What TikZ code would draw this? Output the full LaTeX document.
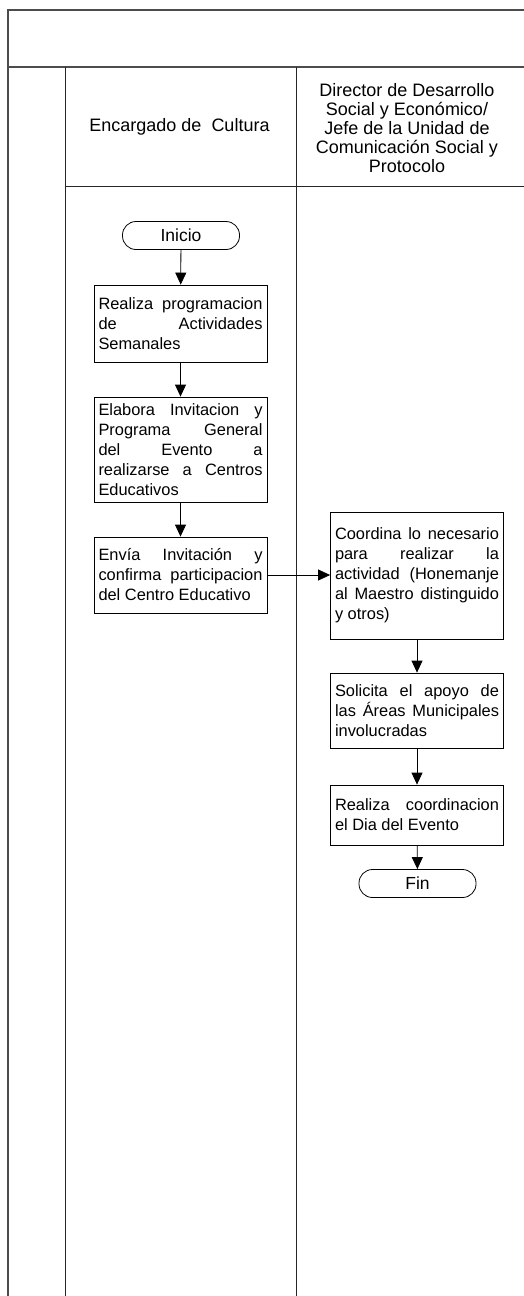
\documentclass[tikz,border=0pt]{standalone}
\usepackage{fontspec}
\setmainfont{Liberation Sans}
\usetikzlibrary{arrows.meta}
\newcommand{\jl}[1]{\makebox[164pt][s]{#1}}
\begin{document}
\begin{tikzpicture}[x=1pt,y=-1pt,
  frame/.style={line width=1pt, draw=black!85},
  thickframe/.style={line width=1.6pt, draw=black!70},
  procbox/.style={draw, line width=0.8pt, text width=164pt, inner xsep=4.5pt, inner ysep=0pt, align=justify, font=\fontsize{16.4}{20}\selectfont},
  term/.style={draw, line width=0.8pt, rounded corners=13.5pt, minimum width=117pt, minimum height=28pt, inner sep=0pt, font=\fontsize{17.5}{20}\selectfont},
  head/.style={align=center, font=\fontsize{18}{19}\selectfont, inner sep=0pt},
  flow/.style={line width=0.8pt, -{Triangle[length=12pt,width=11pt]}}]
\useasboundingbox (0,0) rectangle (524,1296);
% frame
\draw[thickframe] (530,10) -- (8,10) -- (8,1300);
\draw[thickframe] (8,67) -- (530,67);
\draw[frame] (65,186.5) -- (530,186.5);
\draw[frame] (65,67) -- (65,1300);
\draw[frame,line width=1.3pt] (296.5,67) -- (296.5,1300);
% headers
\node[head] (h1) at (179.5,127) {Encargado de\ \ Cultura};
\node[head] (h2) at (407,128) {Director de Desarrollo\\Social y Económico/\\Jefe de la Unidad de\\Comunicación Social y\\Protocolo};
% flow
\node[term] (ini) at (181,235.5) {Inicio};
\node[procbox, minimum height=77pt] (b1) at (180.5,323.5) {\jl{Realiza programacion}\\\jl{de Actividades}\\Semanales};
\node[procbox, minimum height=105pt] (b2) at (180.5,449.5) {\jl{Elabora Invitacion y}\\\jl{Programa General}\\\jl{del Evento a}\\\jl{realizarse a Centros}\\Educativos};
\node[procbox, minimum height=76pt] (b3) at (180.5,575) {\jl{Envía Invitación y}\\\jl{confirma participacion}\\del Centro Educativo};
\node[procbox, minimum height=127pt] (b4) at (417,575.5) {\jl{Coordina lo necesario}\\\jl{para realizar la}\\\jl{actividad (Honemanje}\\\jl{al Maestro distinguido}\\y otros)};
\node[procbox, minimum height=75pt] (b5) at (417,710.5) {\jl{Solicita el apoyo de}\\\jl{las Áreas Municipales}\\involucradas};
\node[procbox, minimum height=60pt] (b6) at (417,815) {\jl{Realiza coordinacion}\\el Dia del Evento};
\node[term] (fin) at (417.5,883.5) {Fin};
\draw[flow] (ini) -- (b1);
\draw[flow] (b1) -- (b2);
\draw[flow] (b2) -- (b3);
\draw[flow] (b3.east) -- (b3.east -| b4.west);
\draw[flow] (b4) -- (b5);
\draw[flow] (b5) -- (b6);
\draw[flow] (b6) -- (fin);
\end{tikzpicture}
\end{document}
